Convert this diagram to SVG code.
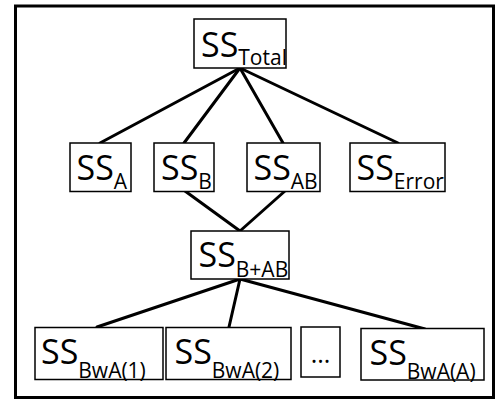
<svg xmlns="http://www.w3.org/2000/svg" width="503" height="401" viewBox="0 0 503 401">
  <style>
    .frame { fill: #fff; stroke: #000; stroke-width: 3; }
    .box { fill: #fff; stroke: #000; stroke-width: 1.5; }
    .edge { stroke: #000; stroke-width: 3; fill: none; stroke-linecap: round; }
    .lbl { font-family: "Open Sans", "Liberation Sans", sans-serif; font-size: 34px; fill: #000; }
    .sub { font-size: 21px; }
    .dots { font-size: 25px; }
  </style>

  <!-- outer frame -->
  <rect class="frame" x="15.5" y="6" width="478" height="391.5"/>

  <!-- connectors -->
  <g id="connectors">
    <line class="edge" x1="240" y1="68" x2="100" y2="143"/>
    <line class="edge" x1="240" y1="68" x2="184" y2="143"/>
    <line class="edge" x1="240" y1="68" x2="283" y2="143"/>
    <line class="edge" x1="240" y1="68" x2="398" y2="143"/>
    <line class="edge" x1="185" y1="191" x2="240" y2="231"/>
    <line class="edge" x1="285" y1="191" x2="240" y2="231"/>
    <line class="edge" x1="240" y1="279" x2="97" y2="327"/>
    <line class="edge" x1="240" y1="279" x2="229" y2="327"/>
    <line class="edge" x1="240" y1="279" x2="425" y2="329"/>
  </g>

  <g id="ss-total">
    <rect class="box" x="194" y="19" width="92" height="49"/>
    <text class="lbl" x="201" y="57.3">SS<tspan class="sub" dy="8">Total</tspan></text>
  </g>

  <g id="ss-a">
    <rect class="box" x="70" y="143" width="61" height="48.5"/>
    <text class="lbl" x="76.5" y="180">SS<tspan class="sub" dy="9">A</tspan></text>
  </g>

  <g id="ss-b">
    <rect class="box" x="154" y="143" width="60" height="48.5"/>
    <text class="lbl" x="161" y="180">SS<tspan class="sub" dy="9">B</tspan></text>
  </g>

  <g id="ss-ab">
    <rect class="box" x="247" y="143" width="73" height="48.5"/>
    <text class="lbl" x="253.5" y="180">SS<tspan class="sub" dy="9">AB</tspan></text>
  </g>

  <g id="ss-error">
    <rect class="box" x="350" y="143" width="95" height="48.5"/>
    <text class="lbl" x="356.5" y="180">SS<tspan class="sub" dy="9">Error</tspan></text>
  </g>

  <g id="ss-b-plus-ab">
    <rect class="box" x="191" y="231" width="98" height="48"/>
    <text class="lbl" x="198.5" y="267">SS<tspan class="sub" dy="9.5">B+AB</tspan></text>
  </g>

  <g id="ss-bwa-1">
    <rect class="box" x="35" y="327.5" width="128" height="52"/>
    <text class="lbl" x="41" y="364">SS<tspan class="sub" dy="13.5">BwA(1)</tspan></text>
  </g>

  <g id="ss-bwa-2">
    <rect class="box" x="166" y="327.5" width="125" height="52"/>
    <text class="lbl" x="174.5" y="364">SS<tspan class="sub" dy="13.5">BwA(2)</tspan></text>
  </g>

  <g id="ellipsis">
    <rect class="box" x="301" y="327" width="39" height="50"/>
    <text class="lbl dots" x="320.5" y="363" text-anchor="middle">...</text>
  </g>

  <g id="ss-bwa-a">
    <rect class="box" x="361" y="328.5" width="123" height="51.5"/>
    <text class="lbl" x="369.5" y="365">SS<tspan class="sub" dy="13.5">BwA(A)</tspan></text>
  </g>
</svg>
